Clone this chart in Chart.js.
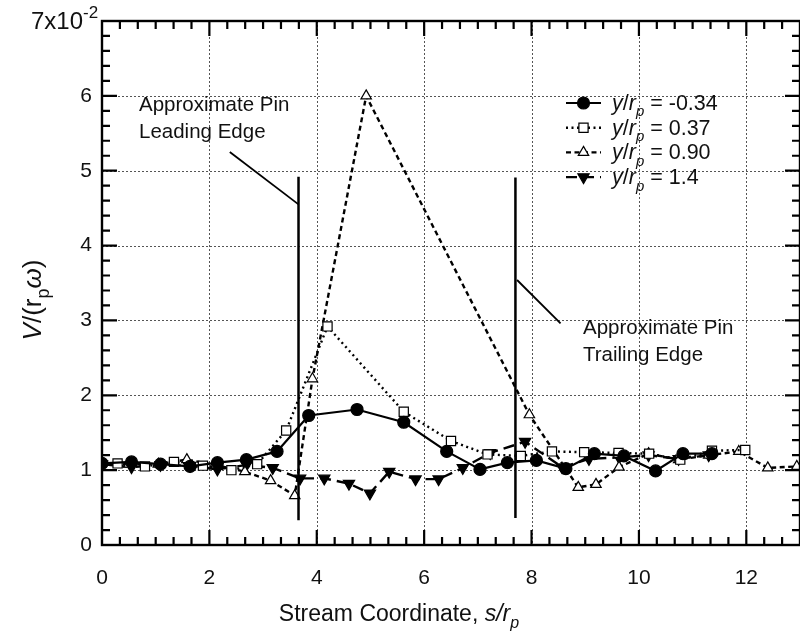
<!DOCTYPE html>
<html><head><meta charset="utf-8">
<script src="https://cdn.jsdelivr.net/npm/chart.js@4"></script>
<style>html,body{margin:0;padding:0;background:#fff}#wrap{width:800px;height:640px}</style>
</head><body><div id="wrap"><canvas id="c" width="800" height="640"></canvas></div>
<script>
const FONT = '"Liberation Sans", Arial, sans-serif';

// y/rp = -0.34 (filled circles, solid)
const xNeg034 = [0, 0.55, 1.09, 1.64, 2.15, 2.69, 3.26, 3.85, 4.75, 5.62, 6.42, 7.04, 7.55, 8.09, 8.64, 9.17, 9.72, 10.31, 10.82, 11.36];
const yNeg034 = [0.0109, 0.0111, 0.0108, 0.0105, 0.0110, 0.0114, 0.0125, 0.0173, 0.0181, 0.0164, 0.0125, 0.0101, 0.0110, 0.0113, 0.0102, 0.0122, 0.0119, 0.0099, 0.0122, 0.0122];
// y/rp = 0.37 (open squares, dotted)
const x037 = [0.29, 0.80, 1.34, 1.88, 2.41, 2.89, 3.43, 4.20, 5.62, 6.50, 7.18, 7.80, 8.38, 8.98, 9.62, 10.19, 10.77, 11.36, 11.98];
const y037 = [0.0109, 0.0105, 0.0111, 0.0106, 0.0100, 0.0108, 0.0153, 0.0292, 0.0178, 0.0139, 0.0121, 0.0119, 0.0125, 0.0124, 0.0123, 0.0122, 0.0114, 0.0126, 0.0127];
// y/rp = 0.90 (open triangles, dashed)
const x090 = [0.50, 1.05, 1.58, 2.10, 2.66, 3.14, 3.59, 3.92, 4.92, 7.96, 8.87, 9.20, 9.63, 10.18, 10.74, 11.30, 11.86, 12.40, 12.94];
const y090 = [0.0108, 0.0108, 0.0114, 0.0107, 0.0098, 0.0086, 0.0066, 0.0222, 0.0600, 0.0174, 0.0077, 0.0081, 0.0104, 0.0122, 0.0114, 0.0120, 0.0125, 0.0103, 0.0105];
// y/rp = 1.4 (filled down triangles, long dash)
const x14 = [0, 0.55, 1.09, 1.64, 2.15, 2.69, 3.18, 3.69, 4.14, 4.60, 4.99, 5.35, 5.84, 6.27, 6.72, 7.23, 7.88, 8.57, 9.07, 9.63, 10.18, 10.74, 11.30];
const y14 = [0.0108, 0.0104, 0.0107, 0.0106, 0.0101, 0.0107, 0.0103, 0.0089, 0.0089, 0.0082, 0.0069, 0.0098, 0.0088, 0.0088, 0.0103, 0.0123, 0.0138, 0.0104, 0.0115, 0.0117, 0.0120, 0.0115, 0.0120];

// pin edge markers and leader lines
const leadingEdgeX = [3.66, 3.66];
const leadingEdgeY = [0.0492, 0.0033];
const trailingEdgeX = [7.70, 7.70];
const trailingEdgeY = [0.0491, 0.0036];
const leadingLeaderX = [2.38, 3.66];
const leadingLeaderY = [0.0525, 0.0455];
const trailingLeaderX = [7.73, 8.54];
const trailingLeaderY = [0.0354, 0.0296];

const seriesNames = ['-0.34', '0.37', '0.90', '1.4'];
const xGridValues = [2, 4, 6, 8, 10, 12];
const yGridValues = [0.01, 0.02, 0.03, 0.04, 0.05, 0.06];

const pts = (xs, ys) => xs.map((x, i) => ({x, y: ys[i]}));

const seriesStyles = [
  {dash: [], pointStyle: 'circle', radius: 6, fill: '#000', rot: 0},
  {dash: [2, 3.5], pointStyle: 'rect', radius: 6.5, fill: '#fff', rot: 0},
  {dash: [5, 3.5], pointStyle: 'triangle', radius: 6, fill: '#fff', rot: 0},
  {dash: [11, 6], pointStyle: 'triangle', radius: 6.5, fill: '#000', rot: 180}
];
const seriesData = [pts(xNeg034, yNeg034), pts(x037, y037), pts(x090, y090), pts(x14, y14)];

const datasets = [];
const lineDs = (d) => ({data: d, borderColor: '#000', borderWidth: 2.5, pointRadius: 0, showLine: true, fill: false, tension: 0});
datasets.push(lineDs(pts(leadingEdgeX, leadingEdgeY)));
datasets.push(lineDs(pts(trailingEdgeX, trailingEdgeY)));
datasets.push(Object.assign(lineDs(pts(leadingLeaderX, leadingLeaderY)), {borderWidth: 1.8}));
datasets.push(Object.assign(lineDs(pts(trailingLeaderX, trailingLeaderY)), {borderWidth: 1.8}));
seriesData.forEach((d, i) => {
  const s = seriesStyles[i];
  datasets.push({
    data: d, showLine: true, fill: false, tension: 0,
    borderColor: '#000', borderWidth: i === 0 ? 2.2 : 2.4, borderDash: s.dash,
    pointStyle: s.pointStyle, pointRadius: s.radius, pointRotation: s.rot,
    pointBackgroundColor: s.fill, pointBorderColor: '#000', pointBorderWidth: 1.2
  });
});

function drawRich(ctx, parts, x, y, size, align) {
  const fontOf = (p) => (p.italic ? 'italic ' : '') + (p.sub || p.sup ? Math.round(size * 0.7) : size) + 'px ' + FONT;
  let total = 0;
  parts.forEach(p => { ctx.font = fontOf(p); total += ctx.measureText(p.t).width; });
  let cx = align === 'center' ? x - total / 2 : x;
  ctx.textAlign = 'left';
  ctx.textBaseline = 'alphabetic';
  parts.forEach(p => {
    ctx.font = fontOf(p);
    const dy = p.sub ? size * 0.3 : (p.sup ? -size * 0.45 : 0);
    ctx.fillText(p.t, cx, y + dy);
    cx += ctx.measureText(p.t).width;
  });
}

function drawMarker(ctx, style, x, y) {
  ctx.save();
  ctx.setLineDash([]);
  ctx.lineWidth = 1.2;
  ctx.strokeStyle = '#000';
  ctx.fillStyle = style.fill;
  ctx.beginPath();
  const r = style.radius;
  if (style.pointStyle === 'circle') {
    ctx.arc(x, y, r, 0, Math.PI * 2);
  } else if (style.pointStyle === 'rect') {
    const h = r * Math.SQRT1_2;
    ctx.rect(x - h, y - h, 2 * h, 2 * h);
  } else {
    const dir = style.rot === 180 ? -1 : 1;
    ctx.moveTo(x, y - dir * r);
    ctx.lineTo(x + r * 0.866, y + dir * r * 0.5);
    ctx.lineTo(x - r * 0.866, y + dir * r * 0.5);
    ctx.closePath();
  }
  ctx.fill();
  ctx.stroke();
  ctx.restore();
}

const framePlugin = {
  id: 'frame',
  beforeDatasetsDraw(chart) {
    const {ctx, chartArea: a, scales: {x, y}} = chart;
    ctx.save();
    ctx.strokeStyle = '#555';
    ctx.lineWidth = 1;
    ctx.setLineDash([2, 2]);
    xGridValues.forEach(v => {
      const px = Math.round(x.getPixelForValue(v)) + 0.5;
      ctx.beginPath(); ctx.moveTo(px, a.top); ctx.lineTo(px, a.bottom); ctx.stroke();
    });
    yGridValues.forEach(v => {
      const py = Math.round(y.getPixelForValue(v)) + 0.5;
      ctx.beginPath(); ctx.moveTo(a.left, py); ctx.lineTo(a.right, py); ctx.stroke();
    });
    ctx.restore();
  },
  afterDatasetsDraw(chart) {
    const {ctx, chartArea: a, scales: {x, y}} = chart;
    ctx.save();
    ctx.setLineDash([]);
    ctx.strokeStyle = '#000';
    ctx.lineWidth = 2.4;
    ctx.strokeRect(a.left, a.top, a.right - a.left, a.bottom - a.top);
    // x ticks every 1/3
    ctx.lineWidth = 2.2;
    for (let i = 1; i < 39; i++) {
      const v = i / 3;
      const major = (i % 6 === 0);
      const len = major ? 15 : 8;
      const px = x.getPixelForValue(v);
      ctx.beginPath();
      ctx.moveTo(px, a.bottom); ctx.lineTo(px, a.bottom - len);
      ctx.moveTo(px, a.top); ctx.lineTo(px, a.top + len);
      ctx.stroke();
    }
    // y ticks every 0.002
    for (let i = 1; i < 35; i++) {
      const v = i * 0.002;
      const major = (i % 5 === 0);
      const len = major ? 15 : 8;
      const py = y.getPixelForValue(v);
      ctx.beginPath();
      ctx.moveTo(a.left, py); ctx.lineTo(a.left + len, py);
      ctx.moveTo(a.right, py); ctx.lineTo(a.right - len, py);
      ctx.stroke();
    }
    ctx.restore();

    // texts
    ctx.save();
    ctx.fillStyle = '#111';
    // top y label 7x10^-2
    drawRich(ctx, [{t: '7x10'}, {t: '-2', sup: true}], 31, 29, 24, 'left');
    // annotations
    drawRich(ctx, [{t: 'Approximate Pin'}], 139, 111, 20.5, 'left');
    drawRich(ctx, [{t: 'Leading Edge'}], 139, 138, 20.5, 'left');
    drawRich(ctx, [{t: 'Approximate Pin'}], 583, 334, 20.5, 'left');
    drawRich(ctx, [{t: 'Trailing Edge'}], 583, 361, 20.5, 'left');
    // axis titles
    drawRich(ctx, [{t: 'Stream Coordinate, '}, {t: 's/r', italic: true}, {t: 'p', italic: true, sub: true}], 399, 621, 23, 'center');
    ctx.save();
    ctx.translate(41, 300);
    ctx.rotate(-Math.PI / 2);
    drawRich(ctx, [{t: 'V', italic: true}, {t: '/(r'}, {t: 'p', sub: true}, {t: 'ω', italic: true}, {t: ')'}], 0, 0, 26, 'center');
    ctx.restore();
    // legend
    seriesNames.forEach((name, i) => {
      const ly = 103 + i * 24.7;
      const s = seriesStyles[i];
      ctx.save();
      ctx.strokeStyle = '#000';
      ctx.lineWidth = i === 0 ? 2.2 : 2.4;
      ctx.setLineDash(s.dash);
      ctx.beginPath(); ctx.moveTo(566, ly); ctx.lineTo(601, ly); ctx.stroke();
      ctx.restore();
      drawMarker(ctx, s, 583.5, ly);
      drawRich(ctx, [{t: 'y', italic: true}, {t: '/'}, {t: 'r', italic: true}, {t: 'p', italic: true, sub: true}, {t: ' = ' + name}], 612, ly + 7, 21.5, 'left');
    });
    ctx.restore();
  }
};

new Chart(document.getElementById('c'), {
  type: 'scatter',
  data: {datasets},
  options: {
    responsive: false, animation: false, devicePixelRatio: 1,
    layout: {autoPadding: false, padding: {left: 0, right: 0, top: 21, bottom: 0}},
    plugins: {legend: {display: false}, tooltip: {enabled: false}},
    scales: {
      x: {
        type: 'linear', min: 0, max: 13,
        afterFit: s => { s.height = 95; s.paddingLeft = 0; s.paddingRight = 0; },
        grid: {display: false, drawTicks: false, tickLength: 0}, border: {display: false},
        ticks: {stepSize: 1, autoSkip: false, maxRotation: 0, padding: 21, color: '#111',
          font: {family: FONT, size: 21},
          callback: v => (v % 2 === 0 && v <= 12) ? String(v) : ''}
      },
      y: {
        type: 'linear', min: 0, max: 0.07,
        afterFit: s => { s.width = 102; s.paddingTop = 0; s.paddingBottom = 0; },
        grid: {display: false, drawTicks: false, tickLength: 0}, border: {display: false},
        ticks: {stepSize: 0.01, padding: 10, color: '#111', font: {family: FONT, size: 21},
          callback: v => { const n = Math.round(v * 100); return n === 7 ? '' : String(n); }}
      }
    }
  },
  plugins: [framePlugin]
});
</script>
</body></html>
